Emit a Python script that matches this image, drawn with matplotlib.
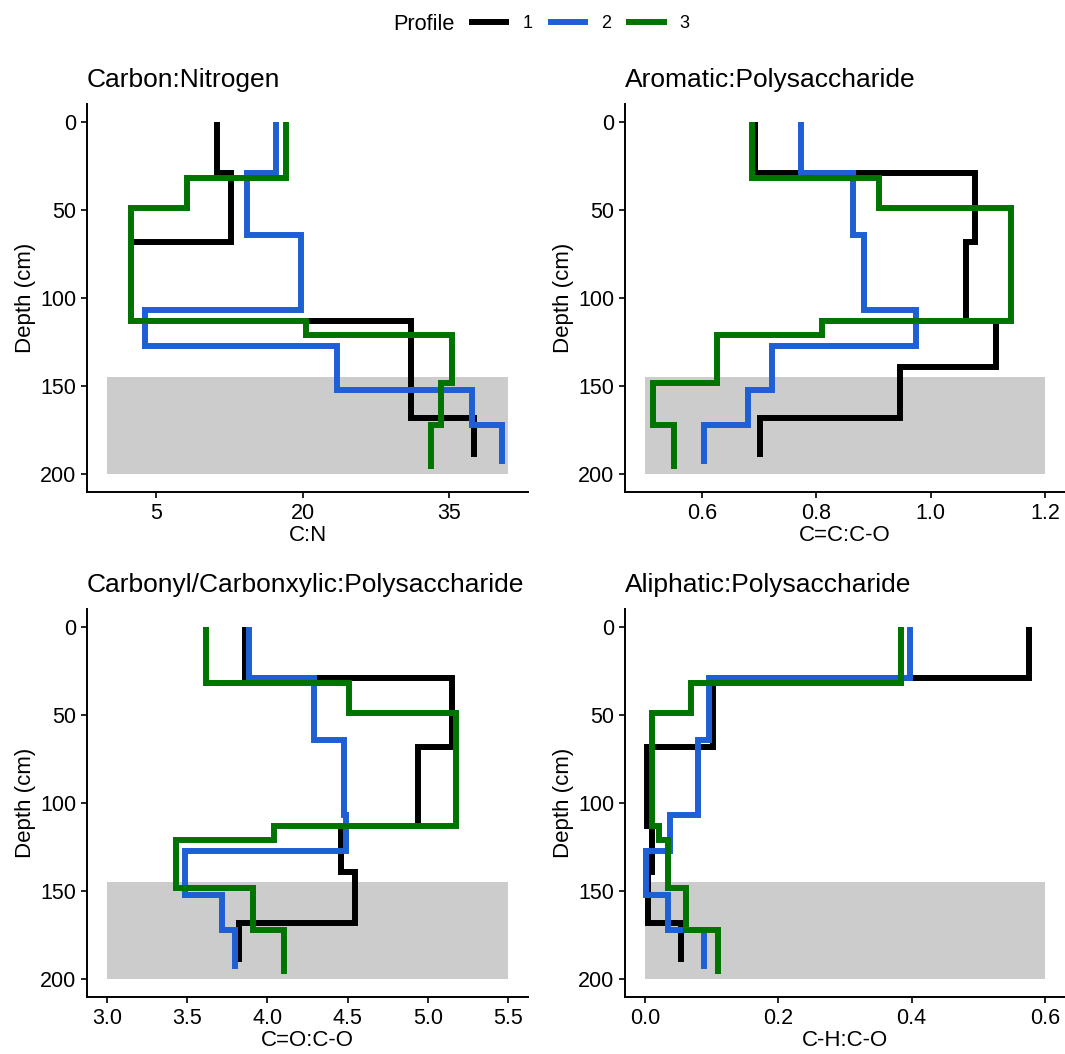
import matplotlib
matplotlib.use("Agg")
import matplotlib.pyplot as plt
from matplotlib.lines import Line2D
import numpy as np

plt.rcParams['font.family'] = ['Liberation Sans', 'DejaVu Sans']

# layer boundaries (cm) for each profile
depth1 = [0, 29, 68, 113, 139, 168, 190]
depth2 = [0, 29, 64, 107, 127, 152, 172, 194]
depth3 = [0, 32, 49, 113, 121, 148, 172, 197]

# Carbon:Nitrogen
cn1 = [11.2, 12.7, 2.4, 31.1, 31.1, 37.5]
cn2 = [17.3, 14.3, 19.8, 3.9, 23.5, 37.3, 40.4]
cn3 = [18.3, 8.2, 2.5, 20.3, 35.3, 34.2, 33.1]

# Aromatic:Polysaccharide
ar1 = [0.693, 1.077, 1.061, 1.115, 0.946, 0.702]
ar2 = [0.773, 0.864, 0.883, 0.974, 0.722, 0.680, 0.603]
ar3 = [0.688, 0.909, 1.141, 0.809, 0.626, 0.514, 0.550]

# Carbonyl/Carbonxylic:Polysaccharide
co1 = [3.858, 5.151, 4.939, 4.461, 4.544, 3.821]
co2 = [3.886, 4.291, 4.476, 4.488, 3.484, 3.717, 3.796]
co3 = [3.619, 4.507, 5.178, 4.041, 3.432, 3.910, 4.104]

# Aliphatic:Polysaccharide
al1 = [0.576, 0.1025, 0.0035, 0.011, 0.005, 0.054]
al2 = [0.397, 0.096, 0.0795, 0.0375, 0.001, 0.0345, 0.0885]
al3 = [0.384, 0.0685, 0.011, 0.021, 0.035, 0.061, 0.110]

titles = ["Carbon:Nitrogen", "Aromatic:Polysaccharide",
          "Carbonyl/Carbonxylic:Polysaccharide", "Aliphatic:Polysaccharide"]
xlabels = ["C:N", "C=C:C-O", "C=O:C-O", "C-H:C-O"]
xticks = [[5, 20, 35], [0.6, 0.8, 1.0, 1.2],
          [3.0, 3.5, 4.0, 4.5, 5.0, 5.5], [0.0, 0.2, 0.4, 0.6]]
xtick_fmt = ["{:.0f}", "{:.1f}", "{:.1f}", "{:.1f}"]
shade_x = [(0, 41), (0.5, 1.2), (3.0, 5.5), (0.0, 0.6)]
shade_depth = (145, 200)
series = [(cn1, cn2, cn3), (ar1, ar2, ar3), (co1, co2, co3), (al1, al2, al3)]
depths = [depth1, depth2, depth3]
colors = ["#000000", "#1f5fd6", "#007400"]
profiles = ["1", "2", "3"]

W, H = 1065, 1054
fig = plt.figure(figsize=(W / 100, H / 100), dpi=100)

# panel boxes in pixels: left, top, right, bottom
boxes = [(87, 104, 528, 492), (625, 104, 1065, 492),
         (87, 609, 528, 997), (625, 609, 1065, 997)]


def step_path(vals, d):
    x = np.repeat(vals, 2)
    y = np.column_stack([d[:-1], d[1:]]).ravel()
    return x, y


for i, (l, t, r, b) in enumerate(boxes):
    ax = fig.add_axes([l / W, 1 - b / H, (r - l) / W, (b - t) / H])
    x0, x1 = shade_x[i]
    ax.fill_between([x0, x1], shade_depth[0], shade_depth[1],
                    color="#cccccc", lw=0, zorder=1)
    for vals, d, c in zip(series[i], depths, colors):
        x, y = step_path(vals, d)
        ax.plot(x, y, color=c, lw=4.3, solid_joinstyle='miter',
                solid_capstyle='butt', zorder=2)
    pad = 0.05 * (x1 - x0)
    ax.set_xlim(x0 - pad, x1 + pad)
    ax.set_ylim(210, -10)
    ax.set_yticks([0, 50, 100, 150, 200])
    ax.set_xticks(xticks[i])
    ax.set_xticklabels([xtick_fmt[i].format(v) for v in xticks[i]])
    for s in ["top", "right"]:
        ax.spines[s].set_visible(False)
    for s in ["left", "bottom"]:
        ax.spines[s].set_linewidth(1.4)
    ax.tick_params(labelsize=15.5, width=1.2, length=4.3, pad=3.5, colors="black")
    ax.set_xlabel(xlabels[i], fontsize=16, labelpad=1)
    ax.set_ylabel("Depth (cm)", fontsize=16, labelpad=3)
    ax.set_title(titles[i], loc="left", fontsize=19, pad=12)

# legend across the top
fig.text(455 / W, 1 - 24 / H, "Profile", fontsize=15.7, ha="right", va="center")
handles = [Line2D([], [], color=c, lw=4.3) for c in colors]
fig.legend(handles, profiles, loc="center left", bbox_to_anchor=(472 / W, 1 - 24 / H),
           ncol=3, frameon=False, fontsize=13, handlelength=1.9,
           handletextpad=0.9, columnspacing=1.0, borderaxespad=0, borderpad=0)

fig.savefig("out.png", dpi=100)
